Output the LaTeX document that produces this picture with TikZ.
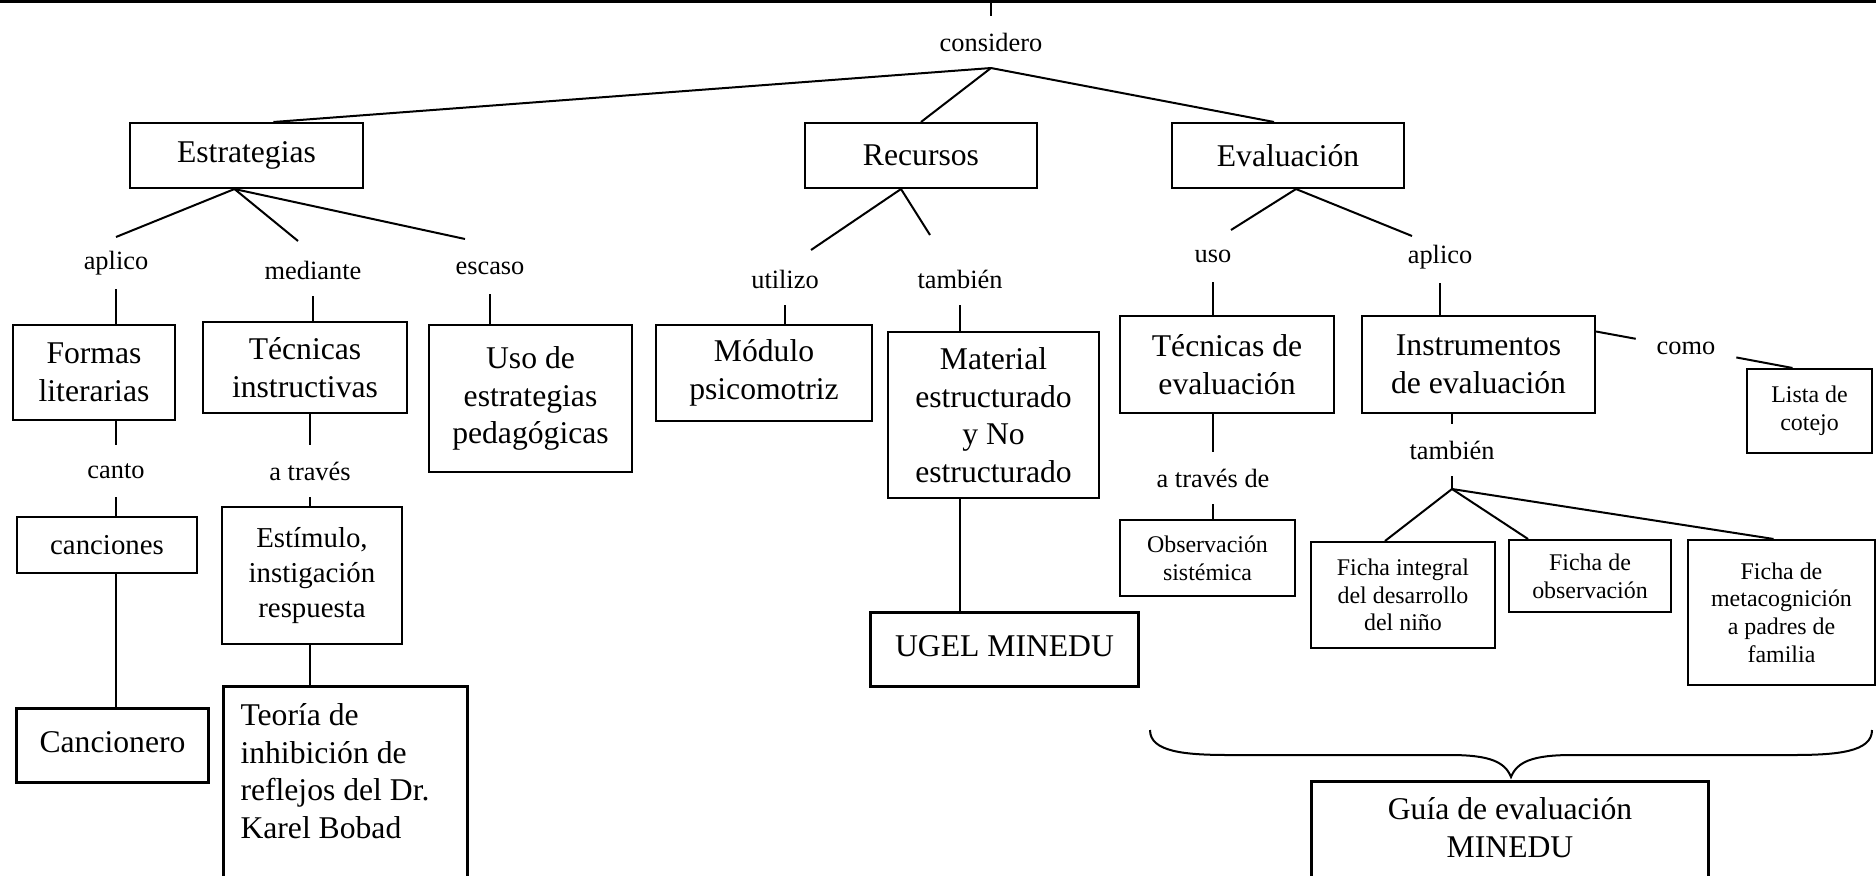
\documentclass[tikz,border=0pt]{standalone}
\usepackage{fontspec}
\setmainfont{Liberation Serif}
\newcommand\fbig{\fontsize{9}{10.7}\selectfont}
\newcommand\fmid{\fontsize{8.2}{9.9}\selectfont}
\newcommand\flbl{\fontsize{7.5}{9}\selectfont}
\newcommand\fsml{\fontsize{6.8}{7.9}\selectfont}
\tikzset{
  box/.style={draw, align=center, inner sep=0pt, font=\fbig},
  thickbox/.style={box, line width=0.03cm},
  midbox/.style={box, font=\fmid},
  smallbox/.style={box, font=\fsml},
  lbl/.style={font=\flbl, inner xsep=0.2cm, inner ysep=0pt, minimum height=0.5cm}
}
\begin{document}
\begin{tikzpicture}[x=0.01cm, y=-0.01cm, line width=0.02cm]
  \useasboundingbox (0,0) rectangle (1876,875);
  \clip (0,0) rectangle (1876,875);
  \coordinate (tl) at (0,1.5);
  \coordinate (tr) at (1876,1.5);
  \coordinate (fork) at (1452,489);
  \draw
    (991,42) node[lbl] (cons){considero}
    (246.5,155.5) node[box, minimum width=2.33cm, minimum height=0.65cm] (estr){Estrategias}
    (921,155.5) node[box, minimum width=2.32cm, minimum height=0.65cm] (rec){Recursos}
    (1288,155.5) node[box, minimum width=2.32cm, minimum height=0.65cm] (eval){Evaluación}
    (116,263) node[lbl] (apl1){aplico}
    (313,270) node[lbl] (med){mediante}
    (490,268) node[lbl] (esc){escaso}
    (785,279) node[lbl] (uti){utilizo}
    (960,279) node[lbl] (tam1){también}
    (1213,256) node[lbl] (usoL){uso}
    (1440,257) node[lbl] (apl2){aplico}
    (94,372.5) node[box, minimum width=1.62cm, minimum height=0.95cm] (form){Formas\\literarias}
    (305,367.5) node[box, minimum width=2.04cm, minimum height=0.91cm] (tecI){Técnicas\\instructivas}
    (530.5,398.5) node[box, minimum width=2.03cm, minimum height=1.47cm] (uso){Uso de\\estrategias\\pedagógicas}
    (764,373) node[box, minimum width=2.16cm, minimum height=0.96cm] (mod){Módulo\\psicomotriz}
    (993.5,415) node[box, minimum width=2.11cm, minimum height=1.66cm] (mat){Material\\estructurado\\y No\\estructurado}
    (1227,364.5) node[box, minimum width=2.14cm, minimum height=0.97cm] (tecE){Técnicas de\\evaluación}
    (1478.5,364.5) node[box, minimum width=2.33cm, minimum height=0.97cm] (inst){Instrumentos\\de evaluación}
    (1686,348) node[lbl] (como){como}
    (1809.5,411) node[smallbox, minimum width=1.25cm, minimum height=0.84cm] (lista){Lista de\\cotejo}
    (116,471) node[lbl] (canto){canto}
    (310,471) node[lbl] (atr){a través}
    (1213,478) node[lbl] (atrd){a través de}
    (1452,450) node[lbl] (tam2){también}
    (107,545) node[midbox, minimum width=1.80cm, minimum height=0.56cm] (canc){canciones}
    (312,575.5) node[midbox, minimum width=1.80cm, minimum height=1.37cm] (estim){Estímulo,\\instigación\\respuesta}
    (1207.5,558) node[smallbox, minimum width=1.75cm, minimum height=0.76cm] (obs){Observación\\sistémica}
    (1403,595) node[smallbox, minimum width=1.84cm, minimum height=1.06cm] (fint){Ficha integral\\del desarrollo\\del niño}
    (1590,576) node[smallbox, minimum width=1.62cm, minimum height=0.72cm] (fobs){Ficha de\\observación}
    (1781.5,612.5) node[smallbox, minimum width=1.87cm, minimum height=1.45cm] (fmet){Ficha de\\metacognición\\a padres de\\familia}
    (1004.5,649.5) node[thickbox, minimum width=2.67cm, minimum height=0.73cm, text depth=0.07cm] (ugel){UGEL MINEDU}
    (112.5,745.5) node[thickbox, minimum width=1.91cm, minimum height=0.73cm, text depth=0.07cm] (canc2){Cancionero}
    (222,685) node[draw, line width=0.03cm, font=\fbig, inner sep=0.17cm, anchor=north west] (teo){\parbox[t][1.8cm][t]{2.1cm}{\raggedright Teoría de\\inhibición de\\reflejos del Dr.\\Karel Bobad}}
    (1510,780) node[thickbox, anchor=north, minimum width=3.96cm, inner ysep=0.16cm, text depth=0.3cm] (guia){Guía de evaluación\\MINEDU};
  \begin{scope}[-]
    \draw[line width=0.03cm] (tl) to (tr);
    \draw (cons.north |- tl) to (cons.north);
    \draw (cons.south) to ([shift={(27,0)}]estr.north);
    \draw (cons.south) to (rec.north);
    \draw (cons.south) to ([shift={(-14,0)}]eval.north);
    \draw ([shift={(-12,0)}]estr.south) to (apl1.north);
    \draw ([shift={(-12,0)}]estr.south) to ([shift={(-15,-3)}]med.north);
    \draw ([shift={(-12,0)}]estr.south) to ([shift={(-25,-3)}]esc.north);
    \draw ([shift={(-20,0)}]rec.south) to ([shift={(26,-3)}]uti.north);
    \draw ([shift={(-20,0)}]rec.south) to ([shift={(-30,-18)}]tam1.north);
    \draw ([shift={(8,0)}]eval.south) to ([shift={(18,0)}]usoL.north);
    \draw ([shift={(8,0)}]eval.south) to ([shift={(-28,5)}]apl2.north);
    \draw (apl1.south) to (apl1.south |- form.north);
    \draw (med.south) to (med.south |- tecI.north);
    \draw (esc.south) to (esc.south |- uso.north);
    \draw (uti.south) to (uti.south |- mod.north);
    \draw (tam1.south) to (tam1.south |- mat.north);
    \draw (usoL.south) to (usoL.south |- tecE.north);
    \draw (apl2.south) to (apl2.south |- inst.north);
    \draw (canto.north |- form.south) to (canto.north);
    \draw (canto.south) to (canto.south |- canc.north);
    \draw (canto |- canc.south) to (canto |- canc2.north);
    \draw (atr.north |- tecI.south) to (atr.north);
    \draw (atr.south) to (atr.south |- estim.north);
    \draw (atr |- estim.south) to (atr |- teo.north);
    \draw (tam1 |- mat.south) to (tam1 |- ugel.north);
    \draw (atrd.north |- tecE.south) to (atrd.north);
    \draw (atrd.south) to (atrd.south |- obs.north);
    \draw (tam2.north |- inst.south) to (tam2.north);
    \draw (tam2.south) to (fork);
    \draw (fork) to ([shift={(-18,0)}]fint.north);
    \draw (fork) to ([shift={(-62,0)}]fobs.north);
    \draw (fork) to ([shift={(-8,0)}]fmet.north);
    \draw ([shift={(0,-33)}]inst.east) to (como);
    \draw (como) to ([shift={(-17,0)}]lista.north);
  \end{scope}
  \draw (1150,730) .. controls (1150,752) and (1185,755) .. (1230,755) -- (1450,755)
    .. controls (1490,755) and (1505,762) .. (1511,777)
    .. controls (1517,762) and (1532,755) .. (1572,755) -- (1792,755)
    .. controls (1837,755) and (1872,752) .. (1872,730);
\end{tikzpicture}
\end{document}
